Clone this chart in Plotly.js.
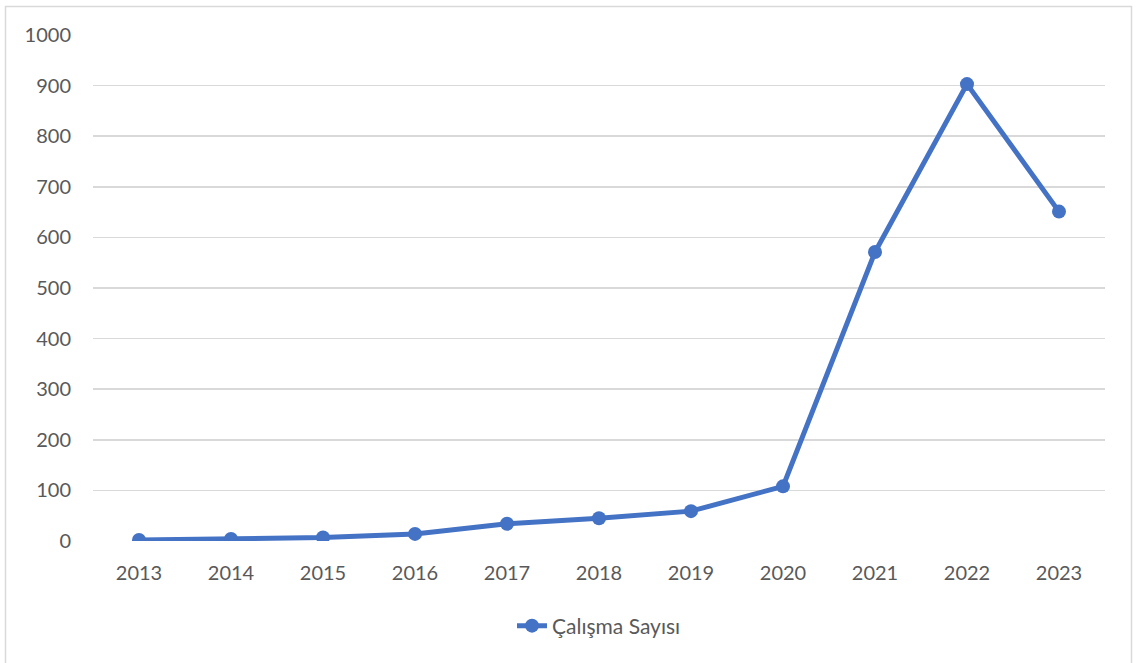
<!DOCTYPE html>
<html>
<head>
<meta charset="utf-8">
<script src="https://cdn.plot.ly/plotly-3.0.1.min.js"></script>
<style>
html,body{margin:0;padding:0;background:#fff;}
#chart{width:1136px;height:663px;}
</style>
</head>
<body>
<div id="chart"></div>
<script>
const years = ['2013','2014','2015','2016','2017','2018','2019','2020','2021','2022','2023'];
const counts = [2, 4, 7, 14, 34, 45, 59, 108, 571, 903, 651];
const seriesName = 'Çalışma Sayısı';
const yTicks = [0,100,200,300,400,500,600,700,800,900,1000];

const W = 1136, H = 663;
const m = {l: 93, r: 31, t: 35, b: 122};
const pw = W - m.l - m.r, ph = H - m.t - m.b;
const px = v => (v - m.l) / pw;
const py = v => (H - m.b - v) / ph;

const trace = {
  x: years, y: counts, type: 'scatter', mode: 'lines+markers', name: seriesName,
  line: {color: '#4472C4', width: 5},
  marker: {color: '#4472C4', size: 14}
};

const layout = {
  width: W, height: H,
  margin: m,
  paper_bgcolor: '#ffffff', plot_bgcolor: '#ffffff',
  font: {family: 'Lato, "Open Sans", sans-serif', size: 20, color: '#595959'},
  showlegend: true,
  legend: {orientation: 'h', x: 0.5, xanchor: 'center', y: py(626), yanchor: 'middle',
           font: {size: 21, color: '#595959'}},
  xaxis: {type: 'category', range: [-0.5, 10.5], showgrid: false, zeroline: false, showline: false,
          ticks: '', ticklabelstandoff: 18, tickfont: {size: 20, color: '#595959'}, fixedrange: true},
  yaxis: {range: [0, 1000], tickvals: yTicks, ticktext: yTicks.map(String),
          showgrid: true, gridcolor: '#d9d9d9', gridwidth: 1.5, zeroline: false, showline: false,
          ticks: '', ticklabelstandoff: 21, tickfont: {size: 20, color: '#595959'}, fixedrange: true},
  shapes: [{type: 'rect', xref: 'paper', yref: 'paper',
            x0: px(5.5), x1: px(1131.5), y0: py(680), y1: py(6.5),
            line: {color: '#d9d9d9', width: 1.5}, fillcolor: 'rgba(0,0,0,0)', layer: 'below'}]
};

Plotly.newPlot('chart', [trace], layout, {displayModeBar: false, staticPlot: true});
</script>
</body>
</html>
